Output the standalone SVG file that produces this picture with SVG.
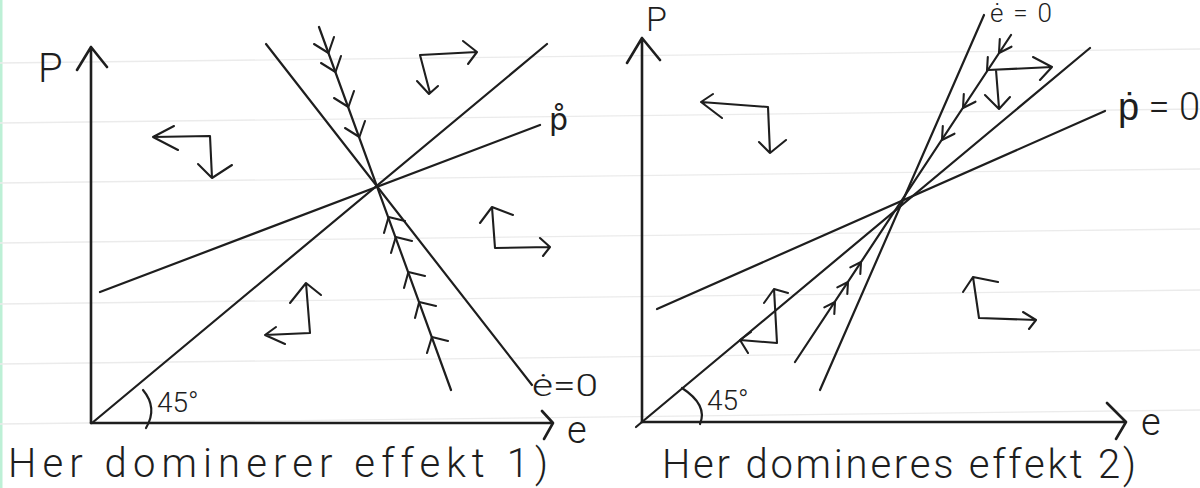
<svg xmlns="http://www.w3.org/2000/svg" width="1200" height="488" viewBox="0 0 1200 488">
<style>
.ln{stroke:#1e1e1e;stroke-width:2.2;fill:none;stroke-linecap:round;stroke-linejoin:round}
.ax{stroke:#1e1e1e;stroke-width:2.6;fill:none;stroke-linecap:round;stroke-linejoin:round}
.fl{stroke:#1e1e1e;stroke-width:2.1;fill:none;stroke-linecap:round;stroke-linejoin:round}
.rule{stroke:#ebebeb;stroke-width:1.3}
.h{font-family:Roboto,"Liberation Sans",Arial,sans-serif;font-weight:300;fill:#1e1e1e}
.d{font-family:"DejaVu Sans","Liberation Sans",sans-serif;fill:#1e1e1e}
</style>
<rect width="1200" height="488" fill="#ffffff"/>
<g id="paper">
<rect x="0" y="0" width="2.5" height="488" fill="#bdf0d6"/>
<line class="rule" x1="0" y1="63" x2="1200" y2="49"/>
<line class="rule" x1="0" y1="123" x2="1200" y2="109"/>
<line class="rule" x1="0" y1="183" x2="1200" y2="169"/>
<line class="rule" x1="0" y1="243" x2="1200" y2="229"/>
<line class="rule" x1="0" y1="304" x2="1200" y2="290"/>
<line class="rule" x1="0" y1="364" x2="1200" y2="350"/>
<line class="rule" x1="0" y1="424" x2="1200" y2="410"/>
</g>

<g id="diagram-1">
<g id="axes-1">
<path class="ax" d="M91,423 L91,47 M77,70 L91,47 L107,67"/>
<path class="ax" d="M91,423 L551,423 M542,411 L553,423 L544,439"/>
<text class="h" x="38" y="82" font-size="40">P</text>
<text class="h" x="567" y="443" font-size="38">e</text>
<path class="ln" d="M143,390 Q158,408 146,428"/>
<text class="h" x="157" y="412" font-size="28">45°</text>
</g>
<g id="curves-1">
<path class="ln" d="M92,423 L547,44"/>
<path class="ln" d="M100,292 L540,125"/>
<path class="ln" d="M266,44 L532,385"/>
<path class="ln" d="M319,27 L451,390"/>
<text class="d" x="549" y="130" font-size="30">p̊</text>
<text class="h" x="532" y="396" font-size="32" textLength="66" lengthAdjust="spacingAndGlyphs">ė=0</text>
</g>
<g id="saddle-arrows-1">
<path class="fl" d="M314,44 L328.5,53 L334,37 M321,63 L335.5,72 L341,56 M334,98 L348.4,107 L354,91 M345,128 L359.4,137 L365,121"/>
<path class="fl" d="M384,233 L388.6,217 L405,221 M391,253 L395.8,237 L412,241 M404,288 L408.4,272 L425,276 M415,318 L419.2,302 L436,306 M427,353 L431.9,337 L448,341"/>
</g>
<g id="flow-1">
<path class="fl" d="M153,137 L210,136 L212,178 M174,126 L153,137 L178,150 M198,164 L212,178 L232,165"/>
<path class="fl" d="M477,52 L420,55 L430,93 M463,41 L477,52 L468,64 M417,81 L429,94 L438,86"/>
<path class="fl" d="M492,207 L495,248 L550,247 M480,223 L492,207 L513,215 M540,238 L550,247 L543,256"/>
<path class="fl" d="M306,283 L310,333 L265,335 M290,303 L306,283 L321,295 M276,327 L265,335 L285,344"/>
</g>
<text class="h" x="8" y="477" font-size="40" textLength="540" lengthAdjust="spacing">Her dominerer effekt 1)</text>
</g>

<g id="diagram-2">
<g id="axes-2">
<path class="ax" d="M642,422 L642,38 M627,63 L642,38 L660,60"/>
<path class="ax" d="M642,422 L1126,422 M1107,403 L1126,422 L1116,439"/>
<text class="h" x="646" y="31" font-size="34">P</text>
<text class="h" x="1141" y="435" font-size="38">e</text>
<path class="ln" d="M682,388 Q708,405 700,424"/>
<text class="h" x="707" y="410" font-size="28">45°</text>
</g>
<g id="curves-2">
<path class="ln" d="M636,427 L1090,48"/>
<path class="ln" d="M657,309 L1105,111"/>
<path class="ln" d="M820,390 L984,15"/>
<path class="ln" d="M795,362 L1011,35"/>
<text class="h" x="1118" y="120" font-size="38" textLength="82" lengthAdjust="spacing">ṗ=0</text>
<text class="h" x="990" y="22" font-size="26" textLength="62" lengthAdjust="spacing">ė=0</text>
</g>
<g id="saddle-arrows-2">
<path class="fl" d="M999.8,39 L999,53 L1011.5,46.7 M987.8,57 L987,71 M963.8,94 L963,108 L975.5,101.7 M942.8,126 L942,140 L954.5,133.7"/>
<path class="fl" d="M850.3,267.4 L861,262 L860.3,274 M837.3,287.4 L848,282 L847.3,294 M824.3,307.4 L835,302 L834.3,314"/>
</g>
<g id="flow-2">
<path class="fl" d="M701,102 L768,107 L770,153 M713,94 L701,102 L722,118 M759,142 L770,153 L786,140"/>
<path class="fl" d="M988,70 L1052,67 M996,70 L999,108 M1033,57 L1052,67 L1040,80 M985,95 L999,109 L1010,97"/>
<path class="fl" d="M973,277 L979,318 L1036,320 M963,292 L973,277 L998,282 M1023,312 L1036,320 L1029,329"/>
<path class="fl" d="M774,289 L777,343 L740,340 M764,303 L774,289 L788,293 M751,332 L740,340 L748,353"/>
</g>
<text class="h" x="662" y="478" font-size="40" textLength="474" lengthAdjust="spacing">Her domineres effekt 2)</text>
</g>
</svg>
